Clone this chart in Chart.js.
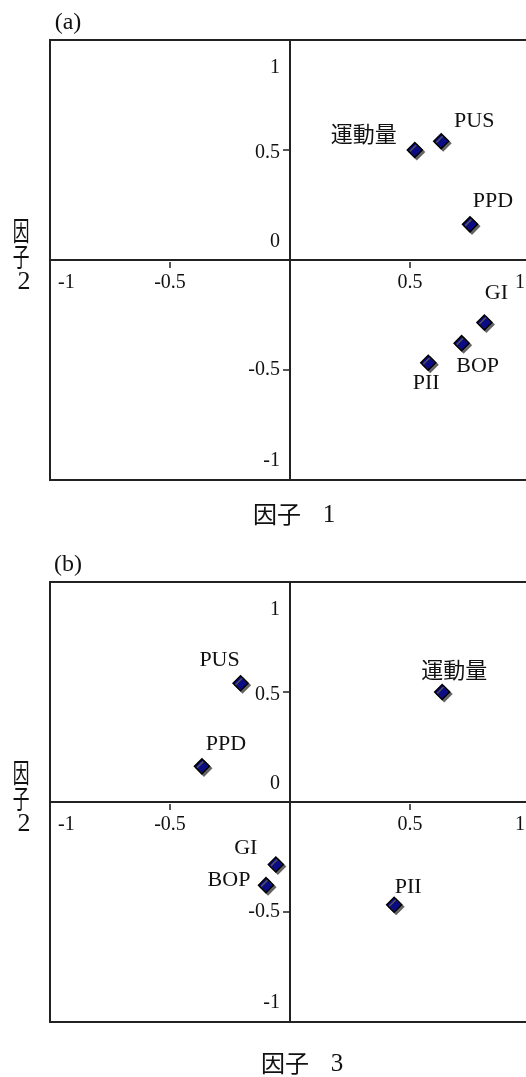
<!DOCTYPE html>
<html>
<head>
<meta charset="utf-8">
<script src="https://cdn.jsdelivr.net/npm/chart.js@4/dist/chart.umd.min.js"></script>
<style>
  html, body { margin: 0; padding: 0; background: #fff; overflow: hidden; }
  #wrap { position: relative; width: 526px; height: 1077px; overflow: hidden; }
  .panel { position: absolute; left: 0; width: 560px; height: 540px; }
  #pa { top: 0; }
  #pb { top: 542px; }
  canvas { display: block; }
</style>
</head>
<body>
<div id="wrap">
  <div class="panel" id="pa"><canvas id="ca" width="560" height="540"></canvas></div>
  <div class="panel" id="pb"><canvas id="cb" width="560" height="540"></canvas></div>
</div>
<script>
// Factor loadings of each variable
const variables = ['運動量', 'PUS', 'PPD', 'GI', 'BOP', 'PII'];
const factor1 = [0.52, 0.63, 0.75, 0.81, 0.715, 0.576];
const factor2 = [0.50, 0.54, 0.162, -0.284, -0.378, -0.467];
const factor3 = [0.634, -0.206, -0.367, -0.059, -0.10, 0.434];
const axisTicks = [-1, -0.5, 0, 0.5, 1];

// Where each variable name sits relative to its marker (px)
const labelShiftA = [[-51, -16], [33, -20], [23, -23], [12, -29], [16, 23], [-2, 20]];
const labelShiftB = [[12, -22], [-21, -23], [24, -22], [-30, -16], [-37, -5], [14, -18]];

const SERIF = '"Liberation Serif", "Times New Roman", serif';
const CJK = '"Noto Sans CJK JP", "Noto Sans CJK SC", sans-serif';
const INK = '#111';

function isCJK(s) { return /[^\x00-\x7f]/.test(s); }

// Frame, centred axes, ticks and titles drawn on the chart's own scales
const quadrantAxes = {
  id: 'quadrantAxes',
  beforeDatasetsDraw(chart, args, o) {
    const ctx = chart.ctx, a = chart.chartArea;
    const sx = chart.scales.x, sy = chart.scales.y;
    const x0 = sx.getPixelForValue(0), y0 = sy.getPixelForValue(0);
    ctx.save();
    ctx.strokeStyle = '#222';
    ctx.lineWidth = 2;
    ctx.strokeRect(a.left, a.top, a.right - a.left, a.bottom - a.top);
    ctx.beginPath();
    ctx.moveTo(x0, a.top); ctx.lineTo(x0, a.bottom);
    ctx.moveTo(a.left, y0); ctx.lineTo(a.right, y0);
    ctx.stroke();

    // small tick marks at +/-0.5
    ctx.lineWidth = 1.5;
    ctx.beginPath();
    axisTicks.filter(v => Math.abs(v) === 0.5).forEach(v => {
      const px = sx.getPixelForValue(v);
      ctx.moveTo(px, y0 + 2); ctx.lineTo(px, y0 + 8);
      const py = sy.getPixelForValue(v);
      ctx.moveTo(x0 - 7, py); ctx.lineTo(x0, py);
    });
    ctx.stroke();

    ctx.fillStyle = INK;
    ctx.font = '20px ' + SERIF;
    ctx.textBaseline = 'middle';
    // y tick labels, left of the vertical axis
    ctx.textAlign = 'right';
    axisTicks.forEach(v => {
      let py = sy.getPixelForValue(v);
      if (v === sy.max) py += 28;
      else if (v === sy.min) py -= 19;
      else if (v === 0) py -= 18;
      else if (v > 0) py += 3;
      ctx.fillText(String(v), x0 - 10, py);
    });
    // x tick labels, under the horizontal axis
    axisTicks.forEach(v => {
      if (v === 0) return;
      const px = sx.getPixelForValue(v);
      if (v === sx.min) { ctx.textAlign = 'left'; ctx.fillText(String(v), px + 8, y0 + 23); }
      else if (v === sx.max) { ctx.textAlign = 'center'; ctx.fillText(String(v), px - 10, y0 + 23); }
      else { ctx.textAlign = 'center'; ctx.fillText(String(v), px, y0 + 23); }
    });

    // panel tag
    ctx.textAlign = 'center';
    ctx.font = '24px ' + SERIF;
    ctx.fillText(o.tag, 68, 23);

    // x-axis title
    ctx.font = '24px ' + CJK;
    ctx.fillText(o.xName, x0 + o.xNameDx, a.bottom + o.xNameDy);
    ctx.font = '25px ' + SERIF;
    ctx.fillText(o.xNum, x0 + o.xNumDx, a.bottom + o.xNameDy + 1);

    // vertical y-axis title, narrow stacked characters
    const chars = [['因', -29], ['子', -3]];
    chars.forEach(([ch, dy]) => {
      ctx.save();
      ctx.translate(21, y0 + dy);
      ctx.scale(0.62, 1);
      ctx.font = '27px ' + CJK;
      ctx.fillText(ch, 0, 0);
      ctx.restore();
    });
    ctx.font = '26px ' + SERIF;
    ctx.fillText('2', 24, y0 + 22);
    ctx.restore();
  },
  beforeDatasetDraw(chart) {
    const ctx = chart.ctx;
    ctx.save();
    ctx.shadowColor = 'rgba(90,90,90,0.9)';
    ctx.shadowOffsetX = 2;
    ctx.shadowOffsetY = 2;
    ctx.shadowBlur = 0;
  },
  afterDatasetDraw(chart) {
    chart.ctx.restore();
  },
  afterDatasetsDraw(chart, args, o) {
    const ctx = chart.ctx;
    const meta = chart.getDatasetMeta(0);
    ctx.save();
    ctx.fillStyle = INK;
    ctx.textAlign = 'center';
    ctx.textBaseline = 'middle';
    meta.data.forEach((pt, i) => {
      const name = variables[i];
      const [dx, dy] = o.shifts[i];
      ctx.font = isCJK(name) ? ('22px ' + CJK) : ('22px ' + SERIF);
      ctx.fillText(name, pt.x + dx, pt.y + dy);
    });
    ctx.restore();
  }
};

function makePanel(id, xs, ys, opts) {
  const pts = xs.map((x, i) => ({ x: x, y: ys[i] }));
  return new Chart(document.getElementById(id), {
    type: 'scatter',
    data: {
      datasets: [{
        data: pts,
        pointStyle: 'rectRot',
        pointRadius: 7.5,
        pointHoverRadius: 7.5,
        backgroundColor: '#0b0b86',
        borderColor: '#000',
        borderWidth: 1.5
      }]
    },
    options: {
      responsive: false,
      animation: false,
      events: [],
      layout: { padding: { left: 50, top: 40, right: 30, bottom: 60 } },
      scales: {
        x: { type: 'linear', min: -1, max: 1, display: false },
        y: { type: 'linear', min: -1, max: 1, display: false }
      },
      plugins: {
        legend: { display: false },
        tooltip: { enabled: false },
        quadrantAxes: opts
      }
    },
    plugins: [quadrantAxes]
  });
}

makePanel('ca', factor1, factor2, {
  tag: '(a)', xName: '因子', xNum: '1',
  xNameDx: -13, xNumDx: 39, xNameDy: 34,
  shifts: labelShiftA
});
makePanel('cb', factor3, factor2, {
  tag: '(b)', xName: '因子', xNum: '3',
  xNameDx: -5, xNumDx: 47, xNameDy: 41,
  shifts: labelShiftB
});
</script>
</body>
</html>
